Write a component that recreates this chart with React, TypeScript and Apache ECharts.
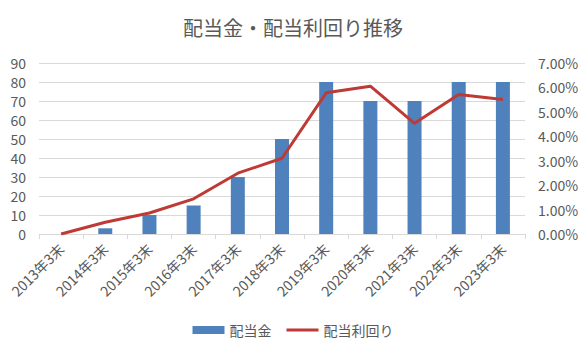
import React, { useEffect, useRef } from "react";
import * as echarts from "echarts";

const categories = [
  "2013年3末", "2014年3末", "2015年3末", "2016年3末", "2017年3末", "2018年3末",
  "2019年3末", "2020年3末", "2021年3末", "2022年3末", "2023年3末",
];
const dividends = [0, 3, 10, 15, 30, 50, 80, 70, 70, 80, 80];
const yields = [0.0, 0.48, 0.86, 1.44, 2.49, 3.1, 5.78, 6.05, 4.53, 5.71, 5.51];

const FONT = "'Noto Sans CJK JP', 'Noto Sans', sans-serif";
const GRAY = "#595959";
const LINE = "#be3a34";

export default function App() {
  const ref = useRef<HTMLDivElement>(null);
  useEffect(() => {
    if (!ref.current) return;
    const chart = echarts.init(ref.current, undefined, { renderer: "svg" });
    chart.setOption({
      animation: false,
      textStyle: { fontFamily: FONT },
      title: {
        text: "配当金・配当利回り推移",
        left: "center",
        top: 12,
        textStyle: { fontFamily: FONT, fontSize: 20, fontWeight: "normal", color: GRAY },
      },
      legend: {
        top: 318,
        left: "center",
        itemGap: 15,
        itemWidth: 32,
        itemHeight: 8,
        textStyle: { fontFamily: FONT, fontSize: 14, color: GRAY },
        data: [
          { name: "配当金", icon: "rect" },
          { name: "配当利回り", icon: "path://M0 0H32V3H0Z" },
        ],
      },
      grid: { left: 39, right: 61, top: 63, bottom: 118, containLabel: false },
      xAxis: {
        type: "category",
        data: categories,
        boundaryGap: true,
        axisLine: { lineStyle: { color: "#d9d9d9" } },
        axisTick: { show: true, length: 5, lineStyle: { color: "#d9d9d9" } },
        axisLabel: { rotate: 45, fontSize: 14, color: GRAY, fontFamily: FONT, margin: 12 },
      },
      yAxis: [
        {
          type: "value",
          min: 0,
          max: 90,
          interval: 10,
          axisLine: { show: false },
          axisTick: { show: false },
          splitLine: { lineStyle: { color: "#d9d9d9" } },
          axisLabel: { fontSize: 14, color: GRAY, fontFamily: FONT, margin: 13 },
        },
        {
          type: "value",
          min: 0,
          max: 7,
          interval: 1,
          axisLine: { show: false },
          axisTick: { show: false },
          splitLine: { show: false },
          axisLabel: {
            fontSize: 14,
            color: GRAY,
            fontFamily: FONT,
            margin: 13,
            formatter: (v: number) => v.toFixed(2) + "%",
          },
        },
      ],
      series: [
        {
          name: "配当金",
          type: "bar",
          data: dividends,
          barWidth: 14,
          itemStyle: { color: "#4f81bd" },
        },
        {
          name: "配当利回り",
          type: "line",
          yAxisIndex: 1,
          data: yields,
          symbol: "none",
          lineStyle: { color: LINE, width: 3 },
          itemStyle: { color: LINE },
        },
      ],
    });
    return () => chart.dispose();
  }, []);
  return (
    <div
      ref={ref}
      style={{ position: "absolute", left: 0, top: 0, width: 586, height: 352 }}
    />
  );
}
